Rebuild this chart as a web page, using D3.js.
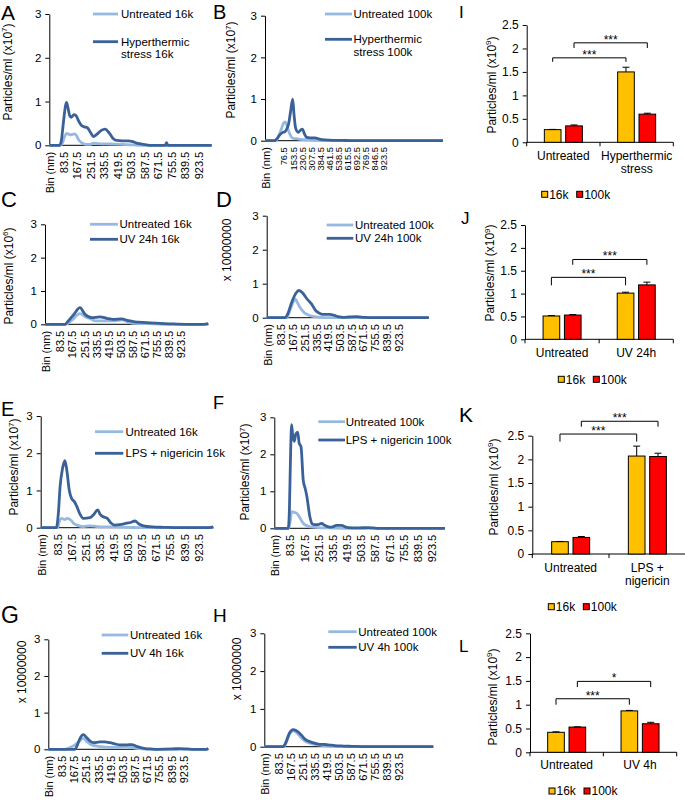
<!DOCTYPE html>
<html>
<head>
<meta charset="utf-8">
<script src="https://cdn.jsdelivr.net/npm/d3@7"></script>
<style>
  body { margin: 0; background: #fff; }
  svg { display: block; font-family: "Liberation Sans", Arial, Helvetica, sans-serif; }
</style>
</head>
<body>
<svg id="fig" width="685" height="800"></svg>
<script>
// ---------- data ----------
const binTicks = [83.5, 167.5, 251.5, 335.5, 419.5, 503.5, 587.5, 671.5, 755.5, 839.5, 923.5];
const binTicksB = [76.5, 153.5, 230.5, 307.5, 384.5, 461.5, 538.5, 615.5, 692.5, 769.5, 846.5, 923.5];
const lineTicksY = [0, 1, 2, 3];
const barTicksY = [0, 0.5, 1, 1.5, 2, 2.5];
const groups = ["16k", "100k"];

// size distributions, [bin nm, particles/ml in axis units]
const aUntreated = [[-3,0],[65,0],[78,0.05],[92,0.2],[104,0.27],[130,0.24],[150,0.26],[162,0.24],[180,0.12],[197,0.06],[222,0.02],[250,0.02],[272,0.05],[300,0.04],[380,0.03],[450,0.02],[520,0.01],[560,0],[1007,0]];
const aHyper = [[-3,0],[60,0],[70,0.08],[85,0.55],[97,0.9],[104,0.98],[113,0.85],[123,0.68],[132,0.64],[150,0.7],[162,0.68],[180,0.55],[197,0.45],[214,0.42],[233,0.4],[252,0.3],[270,0.2],[292,0.25],[320,0.34],[343,0.37],[370,0.28],[395,0.15],[416,0.11],[450,0.1],[488,0.1],[510,0.09],[540,0.05],[582,0.02],[623,0],[718,0],[726,0.06],[734,0],[1007,0]];

const bUntreated = [[-82,0],[10,0],[30,0.08],[59,0.3],[75,0.42],[88,0.45],[100,0.4],[116,0.25],[130,0.15],[144,0.08],[165,0.05],[187,0.05],[220,0.03],[286,0.02],[350,0.01],[450,0],[1431,0]];
const bHyper = [[-82,0],[0,0],[20,0.05],[45,0.15],[70,0.2],[88,0.22],[105,0.3],[118,0.4],[135,0.7],[153,1.0],[165,0.6],[178,0.3],[200,0.2],[218,0.25],[235,0.28],[255,0.15],[272,0.08],[300,0.07],[343,0.07],[380,0.04],[428,0.02],[500,0.01],[570,0.01],[650,0],[1431,0]];

const cUntreated = [[-20,0],[125,0],[160,0.1],[222,0.32],[260,0.22],[292,0.17],[330,0.1],[400,0.1],[454,0.1],[512,0.13],[560,0.06],[600,0.03],[685,0.02],[800,0],[1113,0]];
const cUV24 = [[-20,0],[118,0],[141,0.1],[180,0.3],[222,0.5],[257,0.3],[303,0.2],[361,0.22],[408,0.18],[454,0.15],[512,0.16],[550,0.12],[592,0.08],[685,0.05],[778,0.03],[870,0.01],[963,0],[1080,0],[1113,0.02]];

const dUntreated = [[-19,0],[125,0],[150,0.25],[175,0.5],[185,0.55],[200,0.45],[220,0.3],[250,0.15],[280,0.08],[310,0.04],[350,0.02],[420,0],[1143,0]];
const dUV24 = [[-19,0],[112,0],[130,0.1],[160,0.45],[190,0.72],[212,0.8],[240,0.72],[270,0.55],[303,0.4],[330,0.22],[351,0.15],[380,0.1],[434,0.1],[465,0.07],[494,0.03],[530,0.01],[570,0.02],[626,0.03],[680,0.01],[750,0],[1143,0]];

const eUntreated = [[-15,0],[85,0],[95,0.15],[110,0.25],[125,0.22],[145,0.25],[165,0.2],[185,0.1],[200,0.07],[240,0.03],[278,0.05],[320,0.03],[400,0.02],[500,0.01],[600,0],[1013,0]];
const eLPS = [[-15,0],[78,0],[90,0.4],[100,1.1],[115,1.6],[129,1.8],[140,1.55],[155,1.0],[169,0.78],[185,0.7],[199,0.58],[215,0.4],[239,0.25],[278,0.27],[300,0.35],[324,0.48],[340,0.35],[354,0.3],[381,0.25],[405,0.12],[427,0.07],[455,0.08],[497,0.12],[520,0.14],[546,0.18],[570,0.1],[596,0.05],[650,0.02],[720,0.01],[800,0],[990,0],[1013,0.02]];

const fUntreated = [[-10,0],[76,0],[85,0.2],[93,0.45],[110,0.43],[125,0.4],[140,0.3],[155,0.18],[170,0.1],[185,0.07],[202,0.04],[250,0.02],[300,0.01],[400,0],[1002,0]];
const fLPS = [[-10,0],[73,0],[80,0.5],[86,1.8],[93,2.8],[100,2.5],[109,2.35],[118,2.55],[129,2.6],[138,2.3],[149,2.2],[162,1.3],[175,1.05],[182,0.9],[202,0.3],[215,0.12],[228,0.1],[250,0.1],[271,0.13],[290,0.08],[311,0.04],[330,0.03],[360,0.08],[390,0.08],[410,0.04],[430,0.02],[480,0.01],[548,0.02],[600,0],[1002,0]];

const gUntreated = [[-9,0],[100,0],[140,0.05],[175,0.12],[205,0.22],[233,0.3],[260,0.2],[290,0.12],[340,0.08],[417,0.05],[470,0.05],[540,0.07],[580,0.04],[640,0.01],[700,0],[1096,0]];
const gUV4 = [[-9,0],[175,0],[190,0.1],[210,0.3],[233,0.4],[255,0.32],[280,0.22],[302,0.18],[348,0.2],[380,0.2],[417,0.18],[450,0.15],[486,0.12],[530,0.12],[567,0.13],[600,0.08],[624,0.05],[660,0.02],[700,0.01],[740,0],[850,0.01],[900,0.02],[950,0.01],[1000,0],[1080,0],[1096,0.02]];

const hUntreated = [[-14.5,0],[120,0],[140,0.12],[165,0.35],[188,0.42],[210,0.38],[240,0.25],[270,0.15],[300,0.1],[340,0.06],[400,0.03],[480,0.01],[600,0],[1168,0]];
const hUV4 = [[-14.5,0],[118,0],[135,0.1],[160,0.35],[188,0.45],[210,0.42],[247,0.3],[270,0.2],[293,0.15],[330,0.1],[363,0.07],[400,0.06],[433,0.05],[480,0.03],[520,0.02],[600,0.01],[700,0],[1168,0]];

// particle counts (x10^9), means and upper error
const iCats = [["Untreated"], ["Hyperthermic", "stress"]];
const i16k = [0.27, 1.50], i16kErr = [0.005, 0.10];
const i100k = [0.35, 0.60], i100kErr = [0.02, 0.02];
const jCats = [["Untreated"], ["UV 24h"]];
const j16k = [0.51, 1.01], j16kErr = [0.01, 0.02];
const j100k = [0.53, 1.19], j100kErr = [0.01, 0.06];
const kCats = [["Untreated"], ["LPS +", "nigericin"]];
const k16k = [0.26, 2.07], k16kErr = [0.005, 0.21];
const k100k = [0.35, 2.06], k100kErr = [0.02, 0.07];
const lCats = [["Untreated"], ["UV 4h"]];
const l16k = [0.42, 0.87], l16kErr = [0.01, 0.01];
const l100k = [0.53, 0.60], l100kErr = [0.005, 0.03];

// significance brackets
const iSig = [{from: 0, to: 1, series: "16k", top: 1.80, foot: 1.715, label: "***"},
              {from: 0, to: 1, series: "100k", top: 2.12, foot: 2.01, label: "***"}];
const jSig = [{from: 0, to: 1, series: "16k", top: 1.355, foot: 1.18, label: "***"},
              {from: 0, to: 1, series: "100k", top: 1.746, foot: 1.63, label: "***"}];
const kSig = [{from: 0, to: 1, series: "16k", top: 2.535, foot: 2.375, label: "***"},
              {from: 0, to: 1, series: "100k", top: 2.805, foot: 2.69, label: "***"}];
const lSig = [{from: 0, to: 1, series: "16k", top: 1.125, foot: 1.0, label: "***"},
              {from: 0, to: 1, series: "100k", top: 1.49, foot: 1.37, label: "*"}];

// ---------- drawing ----------
const svg = d3.select("#fig");
const LIGHT = "#96b9e1", DARK = "#3a6198";
const ORANGE = "#ffc000", RED = "#ff0000";

function letter(t, x, y, size) {
  svg.append("text").attr("x", x).attr("y", y).style("font-size", size + "px").text(t);
}

function yTitle(cx, cy, main, sup) {
  const t = svg.append("text")
      .attr("transform", `translate(${cx},${cy}) rotate(-90)`)
      .attr("text-anchor", "middle")
      .style("font-size", "12px");
  t.append("tspan").attr("dy", 4.2).text(main);
  if (sup) {
    t.append("tspan").attr("dy", -4.5).style("font-size", "8px").text(sup);
    t.append("tspan").attr("dy", 4.5).text(")");
  }
}

function linePanel(c) {
  const x = d3.scaleLinear().domain(c.dom).range([c.x0, c.x1]);
  const y = d3.scaleLinear().domain([0, 3]).range([c.y0, c.yTop]);
  const g = svg.append("g");
  const tickFont = c.tickFont || 11;

  g.append("line")
      .attr("x1", c.x0).attr("x2", c.x1)
      .attr("y1", c.y0).attr("y2", c.y0)
      .attr("stroke", "#000");

  g.append("g")
      .attr("transform", `translate(${c.x0},0)`)
      .call(d3.axisLeft(y).tickValues(lineTicksY).tickSize(4).tickSizeOuter(0).tickPadding(4)
          .tickFormat(d3.format("d")))
      .attr("font-family", null).attr("font-size", null)
      .call(a => a.selectAll("text").style("font-size", "11.5px"));

  const xl = g.append("g")
      .attr("transform", `translate(0,${c.y0})`)
      .call(d3.axisBottom(x).tickValues(c.ticks).tickSize(0).tickPadding(0)
          .tickFormat(d3.format(".1f")))
      .attr("font-family", null).attr("font-size", null);
  xl.select(".domain").remove();
  xl.selectAll("text")
      .attr("transform", "rotate(-90)")
      .attr("text-anchor", "end")
      .attr("x", -6.5).attr("y", 0).attr("dy", "0.35em")
      .style("font-size", tickFont + "px");

  g.append("text")
      .attr("transform", `translate(${c.x0 + 1},${c.y0 + 6.5}) rotate(-90)`)
      .attr("text-anchor", "end").attr("dy", "0.35em")
      .style("font-size", "11px")
      .text("Bin (nm)");

  const line = d3.line().x(d => x(d[0])).y(d => y(d[1])).curve(d3.curveMonotoneX);
  [[c.light, LIGHT], [c.dark, DARK]].forEach(([s, col]) => {
    g.append("path").datum(s)
        .attr("fill", "none").attr("stroke", col)
        .attr("stroke-width", 2.8).attr("stroke-linejoin", "round")
        .attr("d", line);
  });

  c.names.forEach((name, i) => {
    const ly = c.legY[i];
    g.append("line")
        .attr("x1", c.legX[0]).attr("x2", c.legX[1])
        .attr("y1", ly).attr("y2", ly)
        .attr("stroke", i ? DARK : LIGHT).attr("stroke-width", 2.8);
    const t = g.append("text").style("font-size", "11.5px");
    name.forEach((s, k) => {
      t.append("tspan").attr("x", c.legX[2]).attr("y", ly + 4 + k * 12.3).text(s);
    });
  });

  letter(c.letter[0], c.letter[1], c.letter[2], c.letter[3]);
  yTitle(c.title[0], c.title[1], c.title[2], c.title[3]);
}

function barPanel(c) {
  const x = d3.scaleBand().domain(d3.range(c.cats.length)).range([c.x0, c.x1]);
  const gw = 38;
  const xs = d3.scaleBand().domain(groups).range([0, gw]).paddingInner(0.22);
  const y = d3.scaleLinear().domain([0, 2.5]).range([c.y0, c.yTop]);
  const color = d3.scaleOrdinal().domain(groups).range([ORANGE, RED]);
  const vals = {"16k": c.v16, "100k": c.v100};
  const errs = {"16k": c.e16, "100k": c.e100};
  const bx = (i, s) => x(i) + (x.bandwidth() - gw) / 2 + xs(s);
  const cx = (i, s) => bx(i, s) + xs.bandwidth() / 2;
  const g = svg.append("g");

  g.append("g")
      .attr("transform", `translate(${c.x0},0)`)
      .call(d3.axisLeft(y).tickValues(barTicksY).tickSize(4).tickSizeOuter(0).tickPadding(4).tickFormat(d => d))
      .attr("font-family", null).attr("font-size", null)
      .call(a => a.selectAll("text").style("font-size", "12px"));

  g.append("line")
      .attr("x1", c.x0).attr("x2", c.x1)
      .attr("y1", c.y0).attr("y2", c.y0)
      .attr("stroke", "#000");
  g.selectAll(null).data([...d3.range(c.cats.length).map(i => x(i)), c.x1]).join("line")
      .attr("x1", d => d).attr("x2", d => d)
      .attr("y1", c.y0).attr("y2", c.y0 + 4)
      .attr("stroke", "#000");

  groups.forEach(s => {
    const idx = d3.range(c.cats.length);
    g.selectAll(null).data(idx).join("rect")
        .attr("x", i => bx(i, s))
        .attr("y", i => y(vals[s][i]))
        .attr("width", xs.bandwidth())
        .attr("height", i => y(0) - y(vals[s][i]))
        .attr("fill", color(s))
        .attr("stroke", "#000");
    g.selectAll(null).data(idx).join("path")
        .attr("d", i => {
          const xc = cx(i, s), yt = y(vals[s][i] + errs[s][i]);
          return `M${xc},${y(vals[s][i])}V${yt}M${xc - 3.5},${yt}H${xc + 3.5}`;
        })
        .attr("fill", "none").attr("stroke", "#000");
  });

  c.sig.forEach(b => {
    const xa = cx(b.from, b.series), xb = cx(b.to, b.series);
    g.append("path")
        .attr("d", `M${xa},${y(b.foot)}V${y(b.top)}H${xb}V${y(b.foot)}`)
        .attr("fill", "none").attr("stroke", "#000");
    g.append("text")
        .attr("x", (xa + xb) / 2).attr("y", y(b.top) + 1)
        .attr("text-anchor", "middle")
        .style("font-size", "12px")
        .text(b.label);
  });

  c.cats.forEach((lines, i) => {
    const t = g.append("text").attr("text-anchor", "middle").style("font-size", "12px");
    lines.forEach((s, k) => {
      t.append("tspan").attr("x", x(i) + x.bandwidth() / 2).attr("y", c.catY + k * c.catLH).text(s);
    });
  });

  groups.forEach((s, k) => {
    const lx = c.legX + k * 35;
    g.append("rect")
        .attr("x", lx).attr("y", c.legY - 3)
        .attr("width", 6).attr("height", 6)
        .attr("fill", color(s)).attr("stroke", "#000");
    g.append("text")
        .attr("x", lx + 7.5).attr("y", c.legY + 4.2)
        .style("font-size", "12px")
        .text(s);
  });

  letter(c.letter[0], c.letter[1], c.letter[2], c.letter[3]);
  yTitle(c.title[0], c.title[1], "Particles/ml (x10", "9");
}

// ---------- panels ----------
linePanel({x0: 49.3, x1: 211.7, y0: 145.3, yTop: 14, dom: [-3.6, 1007], ticks: binTicks,
  light: aUntreated, dark: aHyper,
  names: [["Untreated 16k"], ["Hyperthermic", "stress 16k"]], legX: [93, 118, 121], legY: [14, 41.7],
  letter: ["A", 1, 20, 21], title: [7.5, 72, "Particles/ml (x10", "7"]});

linePanel({x0: 265, x1: 443, y0: 140.7, yTop: 15.7, dom: [-82.5, 1431], ticks: binTicksB, tickFont: 9.3,
  light: bUntreated, dark: bHyper,
  names: [["Untreated 100k"], ["Hyperthermic", "stress 100k"]], legX: [325, 352, 353.5], legY: [14, 39.3],
  letter: ["B", 213, 18.5, 20], title: [231, 70, "Particles/ml (x10", "7"]});

linePanel({x0: 45, x1: 208.3, y0: 324.3, yTop: 224.3, dom: [-20.6, 1113], ticks: binTicks,
  light: cUntreated, dark: cUV24,
  names: [["Untreated 16k"], ["UV 24h 16k"]], legX: [90, 118, 119.5], legY: [224.3, 239.3],
  letter: ["C", 1, 207, 22], title: [8.5, 276, "Particles/ml (x10", "6"]});

linePanel({x0: 266.7, x1: 429, y0: 317.7, yTop: 215.7, dom: [-19, 1143.5], ticks: binTicks,
  light: dUntreated, dark: dUV24,
  names: [["Untreated 100k"], ["UV 24h 100k"]], legX: [326.7, 353.3, 355], legY: [225, 238.3],
  letter: ["D", 216, 207, 22], title: [227, 250, "x 10000000"]});

linePanel({x0: 40.7, x1: 213.3, y0: 527.7, yTop: 416, dom: [-15.4, 1012.9], ticks: binTicks,
  light: eUntreated, dark: eLPS,
  names: [["Untreated 16k"], ["LPS + nigericin 16k"]], legX: [95, 123.3, 125.5], legY: [431.7, 453.3],
  letter: ["E", 1, 416, 20], title: [14, 467, "Particles/ml (x10", "7"]});

linePanel({x0: 274.3, x1: 445, y0: 528.3, yTop: 417.3, dom: [-9.5, 1002.3], ticks: binTicks,
  light: fUntreated, dark: fLPS,
  names: [["Untreated 100k"], ["LPS + nigericin 100k"]], legX: [318.3, 345, 345.7], legY: [421.7, 440],
  letter: ["F", 213, 409, 18], title: [245, 472, "Particles/ml (x10", "7"]});

linePanel({x0: 48.3, x1: 208.3, y0: 749.3, yTop: 639.3, dom: [-9, 1095.8], ticks: binTicks,
  light: gUntreated, dark: gUV4,
  names: [["Untreated 16k"], ["UV 4h 16k"]], legX: [101.7, 128.3, 130], legY: [635, 653.3],
  letter: ["G", 1, 623.3, 23], title: [21.7, 672, "x 10000000"]});

linePanel({x0: 264.3, x1: 433.3, y0: 746.7, yTop: 633.3, dom: [-14.5, 1168], ticks: binTicks,
  light: hUntreated, dark: hUV4,
  names: [["Untreated 100k"], ["UV 4h 100k"]], legX: [328.3, 356.7, 358.3], legY: [631.7, 647.3],
  letter: ["H", 213, 621.7, 19], title: [236.7, 669, "x 10000000"]});

barPanel({x0: 526.7, x1: 673.3, y0: 142.3, yTop: 25, cats: iCats,
  v16: i16k, e16: i16kErr, v100: i100k, e100: i100kErr, sig: iSig,
  catY: 160, catLH: 13.3, legX: 541.7, legY: 194.3,
  letter: ["I", 459, 18, 17], title: [491.7, 85]});

barPanel({x0: 525, x1: 673.3, y0: 339.3, yTop: 225, cats: jCats,
  v16: j16k, e16: j16kErr, v100: j100k, e100: j100kErr, sig: jSig,
  catY: 357.3, catLH: 13.3, legX: 558.3, legY: 379.3,
  letter: ["J", 461, 224.3, 17], title: [490, 273]});

barPanel({x0: 532.3, x1: 685.7, y0: 554, yTop: 435.7, cats: kCats,
  v16: k16k, e16: k16kErr, v100: k100k, e100: k100kErr, sig: kSig,
  catY: 572.3, catLH: 12.5, legX: 548.3, legY: 606.7,
  letter: ["K", 459, 421.7, 21], title: [493.3, 487]});

barPanel({x0: 530, x1: 676.7, y0: 752.3, yTop: 633.3, cats: lCats,
  v16: l16k, e16: l16kErr, v100: l100k, e100: l100kErr, sig: lSig,
  catY: 769.3, catLH: 13.3, legX: 549, legY: 791,
  letter: ["L", 459, 651.7, 17], title: [492.7, 697]});
</script>
</body>
</html>
